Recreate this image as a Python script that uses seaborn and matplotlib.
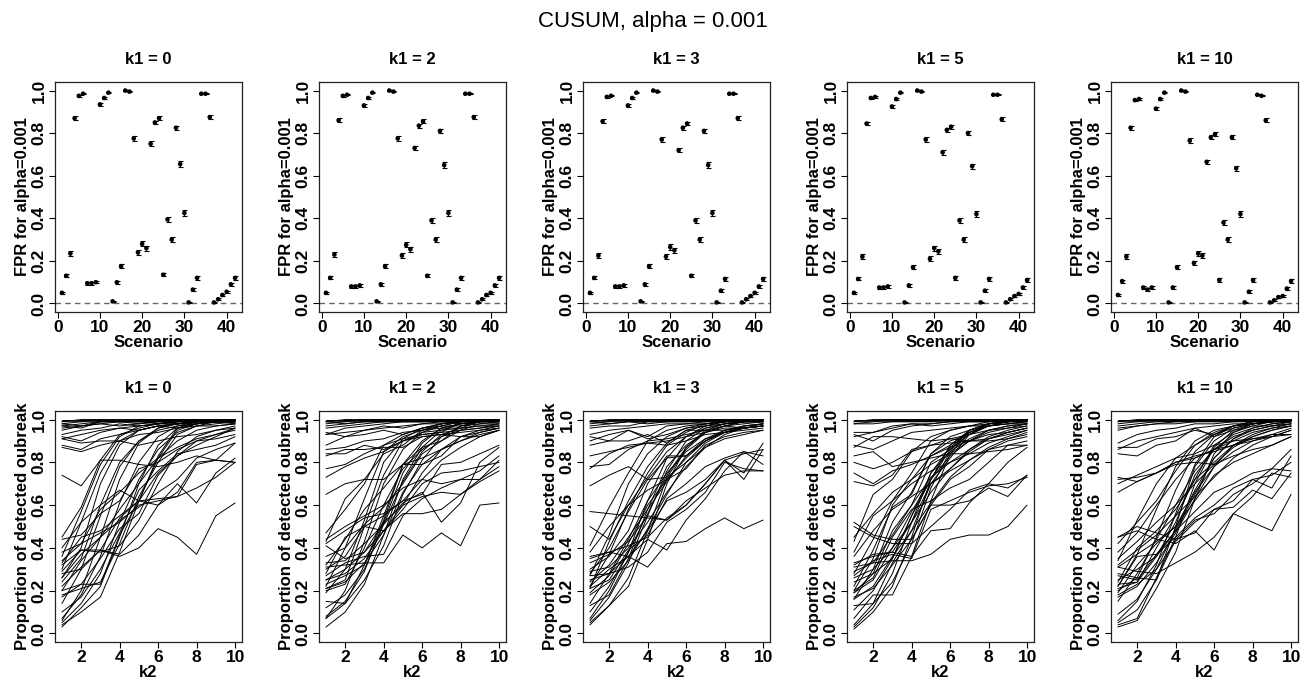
"""CUSUM, alpha = 0.001: FPR per scenario and detection curves over k2."""

import matplotlib

matplotlib.use("Agg")
import matplotlib.pyplot as plt
import pandas as pd
import seaborn as sns

K1_VALUES = [0, 2, 3, 5, 10]
SCENARIOS = list(range(1, 43))
K2_VALUES = list(range(1, 11))

# FPR per scenario (one list per k1 panel)
FPR_K1_0 = [0.05, 0.13, 0.235, 0.87, 0.975, 0.985, 0.095, 0.095, 0.10, 0.935, 0.965, 0.99, 0.01, 0.10,
            0.175, 1.0, 0.995, 0.775, 0.24, 0.28, 0.26, 0.75, 0.85, 0.87, 0.135, 0.395, 0.30, 0.825,
            0.655, 0.425, 0.005, 0.065, 0.12, 0.985, 0.985, 0.875, 0.005, 0.02, 0.04, 0.055, 0.09, 0.12]
FPR_K1_2 = [0.05, 0.12, 0.23, 0.86, 0.975, 0.98, 0.08, 0.08, 0.085, 0.93, 0.965, 0.99, 0.01, 0.09,
            0.175, 1.0, 0.995, 0.775, 0.225, 0.275, 0.255, 0.73, 0.835, 0.855, 0.13, 0.39, 0.30, 0.81,
            0.65, 0.425, 0.005, 0.065, 0.12, 0.985, 0.985, 0.875, 0.005, 0.02, 0.04, 0.05, 0.085, 0.12]
FPR_K1_3 = [0.05, 0.12, 0.225, 0.855, 0.97, 0.975, 0.08, 0.08, 0.085, 0.93, 0.965, 0.99, 0.01, 0.09,
            0.175, 1.0, 0.995, 0.77, 0.22, 0.265, 0.25, 0.72, 0.825, 0.845, 0.13, 0.39, 0.30, 0.81,
            0.65, 0.425, 0.005, 0.06, 0.115, 0.985, 0.985, 0.87, 0.005, 0.02, 0.035, 0.05, 0.08, 0.115]
FPR_K1_5 = [0.05, 0.115, 0.22, 0.845, 0.965, 0.97, 0.075, 0.075, 0.08, 0.925, 0.96, 0.99, 0.005, 0.085,
            0.17, 1.0, 0.995, 0.77, 0.21, 0.26, 0.245, 0.71, 0.815, 0.83, 0.12, 0.39, 0.30, 0.80,
            0.645, 0.42, 0.005, 0.06, 0.115, 0.98, 0.98, 0.865, 0.005, 0.02, 0.035, 0.045, 0.075, 0.11]
FPR_K1_10 = [0.04, 0.105, 0.22, 0.825, 0.955, 0.96, 0.075, 0.065, 0.075, 0.915, 0.96, 0.99, 0.005, 0.075,
             0.17, 1.0, 0.995, 0.765, 0.19, 0.235, 0.225, 0.665, 0.78, 0.795, 0.11, 0.38, 0.30, 0.78,
             0.635, 0.42, 0.005, 0.055, 0.11, 0.98, 0.975, 0.86, 0.005, 0.015, 0.03, 0.035, 0.07, 0.105]
FPR_ERR = [0.005, 0.007, 0.011, 0.009, 0.004, 0.003, 0.006, 0.006, 0.006, 0.006, 0.004, 0.003, 0.002, 0.007,
           0.010, 0.002, 0.002, 0.011, 0.011, 0.012, 0.012, 0.011, 0.009, 0.009, 0.008, 0.012, 0.012, 0.010,
           0.012, 0.012, 0.002, 0.006, 0.008, 0.003, 0.003, 0.009, 0.002, 0.004, 0.005, 0.005, 0.007, 0.008]
ALPHA_LINE = 0.004

# proportion of detected outbreak (percent) for k2 = 1..10, one row per scenario
DETECT_K1_0 = [
    [100, 100, 100, 100, 100, 100, 100, 100, 100, 100], [99, 100, 100, 100, 100, 100, 100, 100, 100, 100],
    [99, 99, 100, 99, 100, 100, 100, 100, 100, 100], [98, 99, 99, 99, 99, 100, 100, 100, 100, 100],
    [97, 98, 99, 99, 99, 99, 100, 100, 100, 100], [96, 97, 98, 99, 98, 99, 99, 100, 100, 100],
    [98, 97, 99, 99, 99, 98, 99, 99, 99, 100], [95, 97, 98, 97, 98, 99, 99, 99, 99, 99],
    [97, 96, 99, 99, 99, 99, 98, 99, 99, 99], [93, 95, 96, 98, 97, 98, 99, 99, 99, 99],
    [91, 93, 95, 96, 97, 98, 98, 99, 99, 99], [92, 90, 94, 96, 95, 97, 98, 98, 99, 99],
    [88, 86, 91, 93, 95, 97, 96, 98, 99, 98], [87, 85, 88, 90, 93, 94, 96, 97, 97, 98],
    [91, 89, 90, 90, 88, 90, 92, 93, 95, 96], [74, 69, 81, 81, 79, 78, 80, 83, 81, 80],
    [29, 39, 39, 36, 40, 49, 45, 37, 55, 61],
    [3, 12, 22, 45, 70, 88, 96, 99, 100, 100], [4, 10, 17, 38, 62, 82, 95, 98, 99, 100],
    [5, 14, 28, 52, 72, 86, 94, 97, 99, 99], [7, 18, 36, 61, 80, 92, 97, 99, 99, 100],
    [6, 20, 45, 72, 89, 96, 98, 99, 100, 100], [14, 30, 55, 78, 90, 96, 98, 99, 99, 100],
    [17, 23, 23, 46, 62, 83, 96, 98, 99, 99], [18, 21, 24, 42, 64, 80, 93, 97, 98, 99],
    [24, 35, 60, 80, 90, 95, 97, 98, 99, 99], [26, 40, 70, 88, 95, 97, 98, 99, 99, 99],
    [30, 52, 75, 90, 95, 97, 98, 99, 99, 100], [36, 57, 79, 92, 97, 98, 99, 99, 99, 100],
    [45, 59, 81, 93, 96, 98, 99, 99, 100, 100], [20, 34, 45, 58, 70, 82, 90, 95, 97, 98],
    [38, 42, 47, 52, 60, 62, 64, 68, 73, 80], [28, 30, 39, 37, 46, 60, 70, 61, 75, 82],
    [40, 52, 60, 67, 62, 60, 66, 80, 81, 80], [33, 45, 48, 55, 62, 63, 64, 79, 81, 89],
    [26, 37, 45, 53, 59, 66, 72, 82, 86, 89], [22, 31, 39, 54, 62, 75, 83, 90, 91, 93],
    [32, 39, 38, 41, 53, 70, 85, 92, 95, 97], [10, 17, 30, 47, 67, 76, 84, 86, 88, 92],
    [20, 23, 35, 49, 56, 74, 83, 88, 92, 96], [34, 42, 58, 66, 75, 82, 87, 91, 93, 96],
    [44, 46, 56, 62, 77, 80, 86, 90, 93, 95],
]
DETECT_K1_2 = [
    [100, 100, 100, 100, 100, 100, 100, 100, 100, 100], [99, 100, 100, 100, 100, 100, 100, 100, 100, 100],
    [99, 99, 100, 100, 100, 100, 100, 100, 100, 100], [98, 99, 99, 99, 100, 100, 100, 100, 100, 100],
    [97, 98, 99, 99, 99, 99, 100, 100, 100, 100], [99, 98, 99, 99, 99, 99, 99, 100, 100, 100],
    [96, 97, 98, 99, 99, 99, 99, 99, 100, 100], [93, 96, 97, 98, 99, 99, 99, 99, 99, 99],
    [93, 94, 95, 96, 97, 98, 98, 99, 99, 99], [94, 92, 95, 97, 96, 98, 99, 98, 99, 99],
    [88, 92, 93, 95, 93, 96, 97, 97, 98, 98], [84, 84, 88, 86, 90, 94, 95, 96, 97, 97],
    [86, 87, 90, 91, 94, 95, 96, 96, 97, 98], [83, 86, 86, 87, 87, 92, 93, 92, 92, 95],
    [77, 79, 84, 88, 91, 93, 94, 95, 96, 97], [73, 78, 82, 85, 90, 92, 93, 94, 95, 96],
    [65, 70, 72, 72, 79, 82, 86, 90, 93, 95], [31, 32, 33, 33, 46, 40, 47, 41, 60, 61],
    [3, 10, 23, 46, 72, 87, 95, 98, 99, 100], [7, 14, 25, 41, 65, 81, 92, 97, 99, 99],
    [8, 15, 29, 52, 75, 89, 96, 98, 99, 100], [15, 14, 32, 55, 79, 90, 96, 98, 99, 100],
    [7, 20, 43, 70, 86, 94, 97, 99, 100, 100], [19, 30, 53, 80, 91, 96, 98, 99, 99, 100],
    [21, 25, 50, 74, 90, 93, 94, 99, 100, 100], [22, 40, 63, 85, 92, 95, 97, 99, 99, 100],
    [43, 63, 72, 84, 88, 95, 98, 99, 100, 100], [47, 58, 70, 88, 93, 96, 98, 99, 99, 100],
    [23, 27, 32, 53, 79, 87, 90, 97, 99, 99],
    [41, 35, 38, 52, 60, 64, 66, 65, 72, 78], [27, 33, 36, 37, 55, 63, 68, 72, 72, 81],
    [28, 45, 50, 48, 56, 56, 58, 65, 71, 76], [42, 48, 54, 56, 62, 65, 79, 80, 84, 88],
    [30, 36, 50, 55, 62, 72, 70, 72, 76, 83], [25, 30, 38, 48, 58, 70, 75, 76, 78, 80],
    [33, 34, 42, 51, 61, 66, 52, 61, 80, 87], [21, 24, 33, 46, 66, 79, 86, 90, 94, 96],
    [25, 28, 35, 48, 60, 75, 86, 92, 95, 97], [44, 50, 55, 60, 68, 72, 81, 87, 92, 95],
    [32, 44, 58, 68, 79, 79, 83, 92, 94, 96], [12, 18, 30, 51, 71, 85, 93, 96, 99, 99],
    [36, 40, 51, 59, 70, 84, 90, 95, 98, 99], [20, 23, 40, 60, 77, 86, 92, 95, 96, 98],
]
DETECT_K1_3 = [
    [100, 100, 100, 100, 100, 100, 100, 100, 100, 100], [99, 100, 100, 100, 100, 100, 100, 100, 100, 100],
    [99, 99, 100, 100, 100, 100, 100, 100, 100, 100], [98, 99, 99, 99, 99, 100, 100, 100, 100, 100],
    [97, 98, 99, 99, 99, 99, 100, 100, 100, 100], [99, 98, 99, 98, 99, 99, 99, 100, 100, 100],
    [96, 97, 97, 99, 99, 99, 99, 99, 100, 100], [93, 95, 96, 97, 98, 98, 99, 99, 99, 99],
    [90, 93, 95, 92, 97, 98, 98, 99, 99, 99], [92, 90, 95, 91, 93, 96, 97, 98, 99, 99],
    [88, 90, 90, 93, 89, 95, 95, 97, 96, 97], [83, 85, 87, 89, 90, 92, 94, 96, 96, 97],
    [78, 79, 86, 90, 91, 93, 95, 95, 96, 97], [77, 84, 88, 89, 88, 90, 93, 94, 95, 96],
    [69, 74, 78, 72, 73, 80, 87, 91, 93, 95], [36, 38, 36, 31, 42, 43, 49, 54, 49, 53],
    [4, 13, 22, 44, 70, 87, 95, 98, 99, 100], [5, 13, 26, 48, 73, 86, 94, 97, 99, 99],
    [6, 17, 33, 55, 76, 90, 96, 98, 99, 100], [7, 20, 38, 62, 82, 92, 97, 99, 99, 100],
    [13, 18, 35, 58, 78, 88, 94, 97, 98, 99], [21, 43, 62, 78, 89, 95, 97, 99, 99, 100],
    [22, 37, 58, 75, 88, 94, 98, 99, 100, 100], [27, 46, 70, 84, 92, 96, 98, 99, 99, 100],
    [41, 59, 75, 90, 95, 97, 98, 99, 100, 100], [50, 44, 60, 73, 85, 92, 96, 98, 99, 99],
    [28, 40, 57, 72, 82, 83, 90, 95, 97, 98],
    [35, 38, 41, 45, 54, 60, 70, 81, 72, 86], [22, 30, 36, 44, 39, 53, 63, 76, 85, 79],
    [27, 28, 31, 38, 52, 58, 66, 80, 77, 76], [25, 28, 36, 48, 62, 66, 72, 81, 75, 89],
    [33, 37, 43, 55, 53, 62, 68, 74, 76, 76], [21, 25, 39, 46, 63, 70, 78, 82, 85, 83],
    [57, 56, 55, 54, 53, 60, 70, 81, 84, 86], [19, 27, 42, 60, 72, 82, 90, 94, 96, 97],
    [14, 28, 44, 62, 75, 85, 91, 94, 96, 97], [38, 50, 60, 67, 72, 77, 88, 92, 94, 95],
    [30, 36, 48, 70, 83, 83, 90, 94, 96, 97], [24, 32, 45, 58, 71, 83, 91, 95, 97, 98],
    [10, 22, 38, 56, 74, 87, 94, 97, 99, 99], [29, 31, 40, 52, 66, 78, 87, 93, 96, 98],
    [18, 24, 34, 49, 65, 80, 89, 94, 97, 98],
]
DETECT_K1_5 = [
    [100, 100, 100, 100, 100, 100, 100, 100, 100, 100], [99, 100, 100, 100, 100, 100, 100, 100, 100, 100],
    [99, 99, 100, 100, 100, 100, 100, 100, 100, 100], [98, 99, 99, 99, 99, 100, 100, 100, 100, 100],
    [98, 98, 99, 99, 99, 99, 100, 100, 100, 100], [94, 94, 97, 98, 98, 99, 99, 99, 100, 100],
    [93, 90, 95, 97, 98, 99, 99, 99, 99, 99], [92, 94, 96, 98, 97, 98, 99, 99, 99, 100],
    [87, 92, 92, 91, 90, 91, 93, 95, 96, 98], [88, 86, 90, 94, 95, 96, 97, 97, 98, 98],
    [83, 85, 78, 80, 82, 84, 84, 85, 86, 88], [80, 77, 80, 85, 88, 91, 90, 93, 94, 96],
    [75, 70, 76, 79, 83, 87, 90, 91, 93, 95], [71, 69, 74, 86, 88, 89, 90, 90, 91, 93],
    [31, 33, 34, 34, 37, 44, 46, 46, 50, 60],
    [2, 10, 22, 45, 72, 88, 95, 98, 99, 100], [3, 12, 28, 52, 75, 87, 94, 97, 99, 99],
    [4, 14, 24, 42, 68, 85, 95, 98, 99, 100], [7, 18, 18, 36, 62, 84, 94, 98, 99, 100],
    [13, 14, 33, 48, 70, 82, 93, 97, 98, 99], [16, 30, 52, 66, 84, 92, 95, 98, 99, 100],
    [19, 28, 48, 60, 80, 86, 95, 98, 99, 100], [22, 39, 59, 65, 84, 90, 93, 98, 99, 100],
    [28, 44, 62, 75, 90, 95, 97, 99, 99, 100], [43, 65, 72, 85, 92, 95, 97, 98, 99, 100],
    [20, 35, 60, 72, 83, 88, 94, 97, 98, 99],
    [52, 46, 44, 44, 60, 60, 62, 68, 64, 74], [50, 45, 42, 42, 50, 58, 67, 70, 68, 74],
    [32, 37, 38, 36, 48, 49, 61, 70, 80, 87], [27, 34, 37, 35, 58, 62, 66, 69, 70, 73],
    [20, 26, 45, 58, 62, 68, 72, 80, 88, 88], [17, 21, 32, 44, 60, 72, 78, 86, 90, 92],
    [33, 36, 38, 52, 70, 76, 81, 86, 88, 90], [16, 22, 36, 48, 61, 73, 81, 87, 91, 94],
    [38, 55, 62, 70, 76, 80, 84, 89, 92, 95], [29, 33, 46, 60, 73, 80, 86, 91, 94, 96],
    [24, 28, 35, 55, 75, 85, 91, 95, 97, 98], [11, 20, 35, 55, 72, 86, 93, 97, 99, 99],
    [36, 48, 58, 64, 70, 77, 86, 92, 95, 97], [19, 25, 40, 57, 72, 83, 90, 95, 97, 98],
    [45, 56, 66, 72, 79, 84, 90, 94, 96, 97], [26, 30, 40, 52, 66, 77, 85, 91, 94, 96],
]
DETECT_K1_10 = [
    [100, 100, 100, 100, 100, 100, 100, 100, 100, 100], [99, 100, 100, 100, 100, 100, 100, 100, 100, 100],
    [99, 99, 100, 100, 100, 100, 100, 100, 100, 100], [98, 99, 99, 99, 100, 100, 100, 100, 100, 100],
    [97, 98, 99, 99, 99, 100, 100, 100, 100, 100], [96, 97, 98, 99, 99, 99, 99, 100, 100, 100],
    [95, 97, 98, 98, 99, 99, 99, 99, 99, 100], [89, 93, 95, 96, 98, 98, 99, 99, 99, 99],
    [87, 87, 91, 92, 95, 93, 96, 98, 99, 99], [84, 83, 88, 90, 96, 92, 95, 97, 97, 98],
    [86, 90, 92, 94, 96, 97, 98, 98, 99, 99], [73, 71, 75, 80, 82, 86, 88, 90, 92, 93],
    [72, 73, 75, 79, 80, 79, 83, 86, 88, 92], [70, 74, 78, 82, 84, 88, 90, 91, 93, 93],
    [66, 71, 75, 80, 83, 85, 88, 91, 92, 95], [31, 29, 28, 33, 38, 45, 56, 52, 48, 65],
    [45, 48, 44, 42, 48, 39, 56, 64, 75, 73],
    [3, 6, 21, 38, 63, 84, 94, 98, 99, 100], [4, 7, 26, 45, 70, 87, 95, 98, 99, 100],
    [5, 11, 25, 50, 78, 90, 96, 98, 99, 100], [6, 15, 32, 56, 79, 92, 97, 99, 99, 100],
    [20, 26, 45, 67, 85, 93, 97, 99, 99, 100], [22, 37, 58, 78, 90, 95, 97, 99, 100, 100],
    [34, 53, 70, 82, 88, 93, 97, 98, 99, 100], [42, 52, 62, 76, 88, 94, 97, 98, 99, 100],
    [23, 24, 40, 55, 72, 88, 94, 97, 99, 99], [25, 30, 36, 52, 74, 86, 93, 96, 98, 99],
    [28, 26, 25, 44, 47, 58, 59, 67, 63, 75], [45, 50, 47, 44, 53, 56, 65, 70, 77, 76],
    [18, 23, 30, 43, 52, 58, 62, 72, 74, 80], [22, 36, 37, 45, 54, 60, 68, 72, 68, 83],
    [27, 25, 37, 48, 57, 66, 70, 75, 77, 86], [31, 37, 43, 50, 62, 74, 80, 84, 88, 92],
    [19, 32, 42, 50, 66, 78, 85, 90, 93, 96], [24, 40, 48, 58, 72, 80, 88, 92, 95, 97],
    [38, 47, 60, 72, 82, 86, 90, 94, 96, 97], [15, 28, 44, 60, 76, 86, 92, 95, 97, 98],
    [21, 24, 36, 48, 65, 82, 91, 95, 97, 99], [35, 43, 52, 60, 70, 79, 87, 92, 95, 97],
    [17, 22, 33, 47, 63, 78, 88, 93, 96, 98], [9, 16, 30, 49, 67, 82, 91, 96, 98, 99],
    [32, 39, 46, 55, 64, 73, 82, 88, 92, 95],
]

FPR_ALL = [FPR_K1_0, FPR_K1_2, FPR_K1_3, FPR_K1_5, FPR_K1_10]
DETECT_ALL = [DETECT_K1_0, DETECT_K1_2, DETECT_K1_3, DETECT_K1_5, DETECT_K1_10]


def _long(rows):
    recs = []
    for sid, row in enumerate(rows, start=1):
        for k2, v in zip(K2_VALUES, row):
            recs.append((sid, k2, v / 100.0))
    return pd.DataFrame(recs, columns=["scenario", "k2", "detected"])


def _style(ax):
    for sp in ax.spines.values():
        sp.set_visible(True)
        sp.set_linewidth(0.9)
        sp.set_color("#222222")
    ax.tick_params(axis="both", length=4, width=0.8, pad=2, labelsize=12.5, colors="black")
    ax.tick_params(axis="y", labelrotation=90)
    for lab in ax.get_yticklabels():
        lab.set_va("center")
    for lab in ax.get_xticklabels() + ax.get_yticklabels():
        lab.set_fontweight("bold")


sns.set_theme(style="ticks")
plt.rcParams["font.family"] = ["Liberation Sans", "DejaVu Sans"]
plt.rcParams["text.color"] = "black"
plt.rcParams["axes.labelcolor"] = "black"

W, H = 1306, 680
fig = plt.figure(figsize=(W / 100, H / 100), dpi=100)
fig.text(0.5, 1 - 22 / H, "CUSUM, alpha = 0.001", ha="center", va="center", fontsize=16)

lefts = [55, 319, 583, 847, 1111]
aw, ah = 187, 230
yticks = [0.0, 0.2, 0.4, 0.6, 0.8, 1.0]

for i, k1 in enumerate(K1_VALUES):
    # top: FPR per scenario
    ax = fig.add_axes([lefts[i] / W, 1 - 312 / H, aw / W, ah / H])
    fpr = FPR_ALL[i]
    ax.axhline(ALPHA_LINE, color="#666666", ls="--", lw=1.0, dashes=(4, 3))
    ax.errorbar(SCENARIOS, fpr, yerr=FPR_ERR, fmt="none", ecolor="black", elinewidth=0.8, capsize=1.8, capthick=0.8)
    sns.scatterplot(x=SCENARIOS, y=fpr, color="black", s=11, edgecolor="none", ax=ax, legend=False)
    ax.set_xlim(-0.64, 43.64)
    ax.set_ylim(-0.04, 1.04)
    ax.set_xticks([0, 10, 20, 30, 40])
    ax.set_yticks(yticks)
    ax.set_yticklabels([f"{v:.1f}" for v in yticks])
    ax.set_title(f"k1 = {k1}", fontweight="bold", fontsize=12, pad=13)
    ax.set_xlabel("Scenario", fontweight="bold", fontsize=12, labelpad=0)
    ax.set_ylabel("FPR for alpha=0.001", fontweight="bold", fontsize=12, labelpad=1)
    _style(ax)

    # bottom: detection proportion vs k2
    ax2 = fig.add_axes([lefts[i] / W, 1 - 642 / H, aw / W, (ah + 1) / H])
    df = _long(DETECT_ALL[i])
    sns.lineplot(data=df, x="k2", y="detected", units="scenario", estimator=None,
                 color="black", lw=0.7, ax=ax2, legend=False)
    ax2.set_xlim(0.64, 10.36)
    ax2.set_ylim(-0.04, 1.04)
    ax2.set_xticks([2, 4, 6, 8, 10])
    ax2.set_yticks(yticks)
    ax2.set_yticklabels([f"{v:.1f}" for v in yticks])
    ax2.set_title(f"k1 = {k1}", fontweight="bold", fontsize=12, pad=13)
    ax2.set_xlabel("k2", fontweight="bold", fontsize=12, labelpad=0)
    ax2.set_ylabel("Proportion of detected oubreak", fontweight="bold", fontsize=12, labelpad=1)
    _style(ax2)

fig.savefig("out.png", dpi=100, facecolor="white")
